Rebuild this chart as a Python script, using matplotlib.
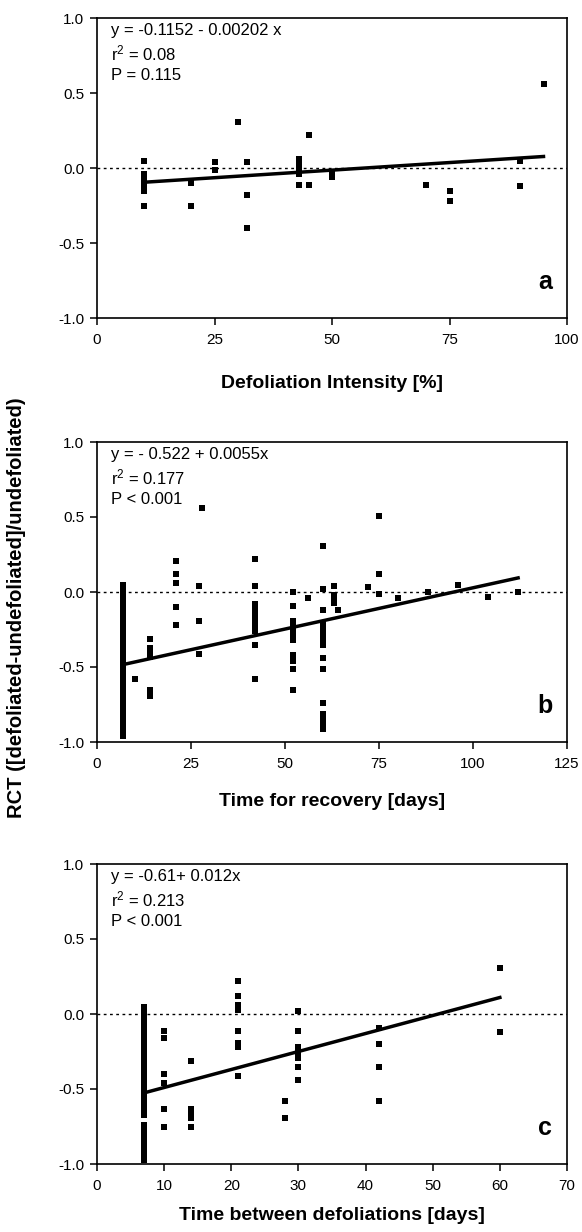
import numpy as np
import matplotlib
matplotlib.use("Agg")
import matplotlib.pyplot as plt

plt.rcParams['font.family'] = ['Liberation Sans', 'DejaVu Sans']
plt.rcParams['mathtext.default'] = 'regular'
plt.rcParams['axes.unicode_minus'] = False

# panel a: defoliation intensity [%]
a_x = [10, 10, 10, 10, 10, 10, 10, 20, 20, 25, 25, 30, 32, 32, 32,
       43, 43, 43, 43, 43, 43, 45, 45, 50, 50, 70, 75, 75, 90, 90, 95]
a_y = [0.05, -0.04, -0.07, -0.10, -0.13, -0.15, -0.25, -0.10, -0.25, 0.04, -0.01, 0.31, 0.04, -0.18, -0.40,
       0.06, 0.03, 0.00, -0.02, -0.04, -0.11, 0.22, -0.11, -0.04, -0.06, -0.11, -0.15, -0.22, 0.05, -0.12, 0.56]
a_fit = (-0.1152, 0.00202)
a_range = (10, 95)

# panel b: time for recovery [days]
b7 = [0.05, 0.03, 0.01, -0.02, -0.05, -0.08, -0.11, -0.15, -0.18, -0.21, -0.24, -0.27, -0.30,
      -0.33, -0.36, -0.39, -0.42, -0.45, -0.48, -0.51, -0.54, -0.57, -0.60, -0.63, -0.66,
      -0.69, -0.72, -0.75, -0.78, -0.81, -0.84, -0.87, -0.90, -0.93, -0.96]
b_x = [7] * len(b7) + [10, 14, 14, 14, 14, 14, 14, 21, 21, 21, 21, 21, 27, 27, 27, 28,
       42, 42, 42, 42, 42, 42, 42, 42, 42, 42, 42,
       52, 52, 52, 52, 52, 52, 52, 52, 52, 52, 52, 56,
       60, 60, 60, 60, 60, 60, 60, 60, 60, 60, 60, 60, 60, 60, 60,
       63, 63, 63, 63, 64, 72, 75, 75, 75, 80, 88, 96, 104, 112]
b_y = b7 + [-0.58, -0.31, -0.37, -0.40, -0.43, -0.65, -0.69, 0.21, 0.12, 0.06, -0.10, -0.22, 0.04, -0.19, -0.41, 0.56,
            0.22, 0.04, -0.08, -0.11, -0.14, -0.17, -0.20, -0.23, -0.26, -0.35, -0.58,
            0.00, -0.09, -0.19, -0.22, -0.25, -0.28, -0.32, -0.42, -0.46, -0.51, -0.65, -0.04,
            0.31, 0.02, -0.12, -0.21, -0.25, -0.28, -0.31, -0.35, -0.44, -0.51, -0.74, -0.81, -0.85, -0.88, -0.91,
            0.04, -0.02, -0.05, -0.07, -0.12, 0.035, 0.51, 0.12, -0.01, -0.04, 0.00, 0.05, -0.035, 0.00]
b_fit = (-0.522, 0.0055)
b_range = (7, 112)

# panel c: time between defoliations [days]
c7 = [0.05, 0.02, -0.01, -0.04, -0.07, -0.10, -0.13, -0.16, -0.19, -0.22, -0.25, -0.28, -0.31,
      -0.34, -0.37, -0.40, -0.43, -0.46, -0.49, -0.52, -0.55, -0.58, -0.61, -0.64, -0.67,
      -0.74, -0.77, -0.80, -0.83, -0.86, -0.89, -0.92, -0.95, -0.97]
c_x = [7] * len(c7) + [10, 10, 10, 10, 10, 10, 14, 14, 14, 14, 14,
       21, 21, 21, 21, 21, 21, 21, 21, 28, 28,
       30, 30, 30, 30, 30, 30, 30, 42, 42, 42, 42, 60, 60]
c_y = c7 + [-0.11, -0.16, -0.40, -0.46, -0.63, -0.75, -0.31, -0.63, -0.66, -0.69, -0.75,
            0.22, 0.12, 0.06, 0.03, -0.11, -0.19, -0.22, -0.41, -0.58, -0.69,
            0.02, -0.11, -0.22, -0.25, -0.29, -0.35, -0.44, -0.095, -0.20, -0.35, -0.58, 0.31, -0.12]
c_fit = (-0.61, 0.012)
c_range = (7, 60)

panels = [
    dict(x=a_x, y=a_y, fit=a_fit, rng=a_range, xlim=(0, 100), xticks=[0, 25, 50, 75, 100],
         xlabel='Defoliation Intensity [%]', letter='a', pad=20,
         stats=['y = -0.1152 - 0.00202 x', 'r$^2$ = 0.08', 'P = 0.115'], top=18),
    dict(x=b_x, y=b_y, fit=b_fit, rng=b_range, xlim=(0, 125), xticks=[0, 25, 50, 75, 100, 125],
         xlabel='Time for recovery [days]', letter='b', pad=16,
         stats=['y = - 0.522 + 0.0055x', 'r$^2$ = 0.177', 'P < 0.001'], top=442),
    dict(x=c_x, y=c_y, fit=c_fit, rng=c_range, xlim=(0, 70), xticks=[0, 10, 20, 30, 40, 50, 60, 70],
         xlabel='Time between defoliations [days]', letter='c', pad=10,
         stats=['y = -0.61+ 0.012x', 'r$^2$ = 0.213', 'P < 0.001'], top=864),
]

W, H = 582, 1232
fig = plt.figure(figsize=(W / 100, H / 100), dpi=100)

for p in panels:
    ax = fig.add_axes([97 / W, 1 - (p['top'] + 300) / H, 470 / W, 300 / H])
    ax.scatter(p['x'], p['y'], marker='s', s=18, color='black', linewidths=0, zorder=3)
    xs = np.array(p['rng'])
    ax.plot(xs, p['fit'][0] + p['fit'][1] * xs, color='black', lw=2.5, zorder=4)
    ax.axhline(0, color='black', lw=1.0, ls=(0, (2, 2.5)), zorder=2)
    ax.set_xlim(*p['xlim'])
    ax.set_ylim(-1, 1)
    ax.set_xticks(p['xticks'])
    ax.set_yticks([-1.0, -0.5, 0.0, 0.5, 1.0])
    ax.set_yticklabels(['%.1f' % v for v in [-1.0, -0.5, 0.0, 0.5, 1.0]])
    ax.tick_params(direction='out', length=5, width=1.1, labelsize=11)
    ax.tick_params(axis='x', pad=6)
    ax.tick_params(axis='y', pad=4)
    for s in ax.spines.values():
        s.set_linewidth(1.2)
    ax.set_xlabel(p['xlabel'], fontsize=14, fontweight='bold', labelpad=p['pad'])
    for i, line in enumerate(p['stats']):
        ax.text(0.03, 0.957 - i * 0.075, line, transform=ax.transAxes, fontsize=12, va='center')
    ax.text(0.953, 0.12, p['letter'], transform=ax.transAxes, fontsize=18,
            fontweight='bold', ha='center', va='center')

fig.text(17 / W, 1 - 608 / H, 'RCT ([defoliated-undefoliated]/undefoliated)',
         rotation=90, fontsize=14.5, fontweight='bold', ha='center', va='center')

fig.savefig('out.png', dpi=100)
